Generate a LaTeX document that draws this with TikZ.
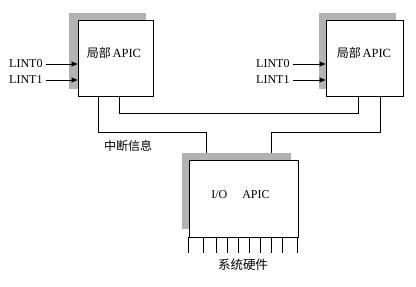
\documentclass[tikz,border=0pt]{standalone}
\usepackage{fontspec}
\setmainfont{Liberation Serif}
\newfontfamily\cjk{Noto Sans CJK SC}
\usetikzlibrary{arrows.meta}
\tikzset{
  box/.style={draw=black, line width=0.9pt, fill=white, inner sep=0pt},
  shade/.style={fill=black!30, draw=none},
  wire/.style={draw=black, line width=0.9pt},
  arr/.style={draw=black, line width=0.9pt, -{Triangle[length=6pt,width=5pt]}},
  sig/.style={font=\fontsize{12}{13}\selectfont, inner sep=1pt, anchor=west},
  lbl/.style={inner sep=0pt},
}
\begin{document}
\begin{tikzpicture}[x=1pt,y=-1pt]
\useasboundingbox (0,0) rectangle (416,287);
% shadows
\fill[shade] (69,13) rectangle (146,89);
\fill[shade] (319,13) rectangle (396,89);
\fill[shade] (182,153) rectangle (291,229);
% boxes
\node[box, minimum width=75pt, minimum height=76pt] (L) at (115.5,58) {};
\node[box, minimum width=77pt, minimum height=76pt] (R) at (364.5,58) {};
\node[box, minimum width=109pt, minimum height=77pt] (IO) at (243.5,198.5) {};
% box texts
\node[lbl] (Lt) at (114,53) {{\cjk\fontsize{12}{14}\selectfont 局部}\,{\fontsize{12.5}{13}\selectfont APIC}};
\node[lbl] (Rt) at (364,53) {{\cjk\fontsize{12}{14}\selectfont 局部}\,{\fontsize{12.5}{13}\selectfont APIC}};
\node[lbl] (IOt) at (240.5,195) {\fontsize{12}{13}\selectfont I/O\hspace{15pt}APIC};
% signal inputs
\node[sig] (l0) at (8,64) {LINT0};
\node[sig] (l1) at (8,80) {LINT1};
\node[sig] (r0) at (255,64) {LINT0};
\node[sig] (r1) at (255,80) {LINT1};
\draw[arr] ([xshift=2pt]l0.east) -- (l0.east -| L.west);
\draw[arr] ([xshift=2pt]l1.east) -- (l1.east -| L.west);
\draw[arr] ([xshift=2pt]r0.east) -- (r0.east -| R.west);
\draw[arr] ([xshift=2pt]r1.east) -- (r1.east -| R.west);
% connectors
\draw[wire] ([xshift=21pt]L.south west) -- ++(0,36) -| ([xshift=18pt,yshift=7pt]IO.north west);
\draw[wire] ([xshift=42pt]L.south west) -- ++(0,17) -| ([xshift=33pt]R.south west);
\draw[wire] ([xshift=55pt]R.south west) -- ++(0,36) -| ([xshift=83pt,yshift=7pt]IO.north west);
% labels
\node[lbl] (irq) at (128,146) {\cjk\fontsize{12}{14}\selectfont 中断信息};
% pins
\foreach \p in {0,15,28,39,50,61,72,83,94,109}
  \draw[wire] ([xshift=\p pt]IO.south west) -- ++(0,16);
\node[lbl] (hw) at (243,265) {\cjk\fontsize{12.5}{14}\selectfont 系统硬件};
\end{tikzpicture}
\end{document}
